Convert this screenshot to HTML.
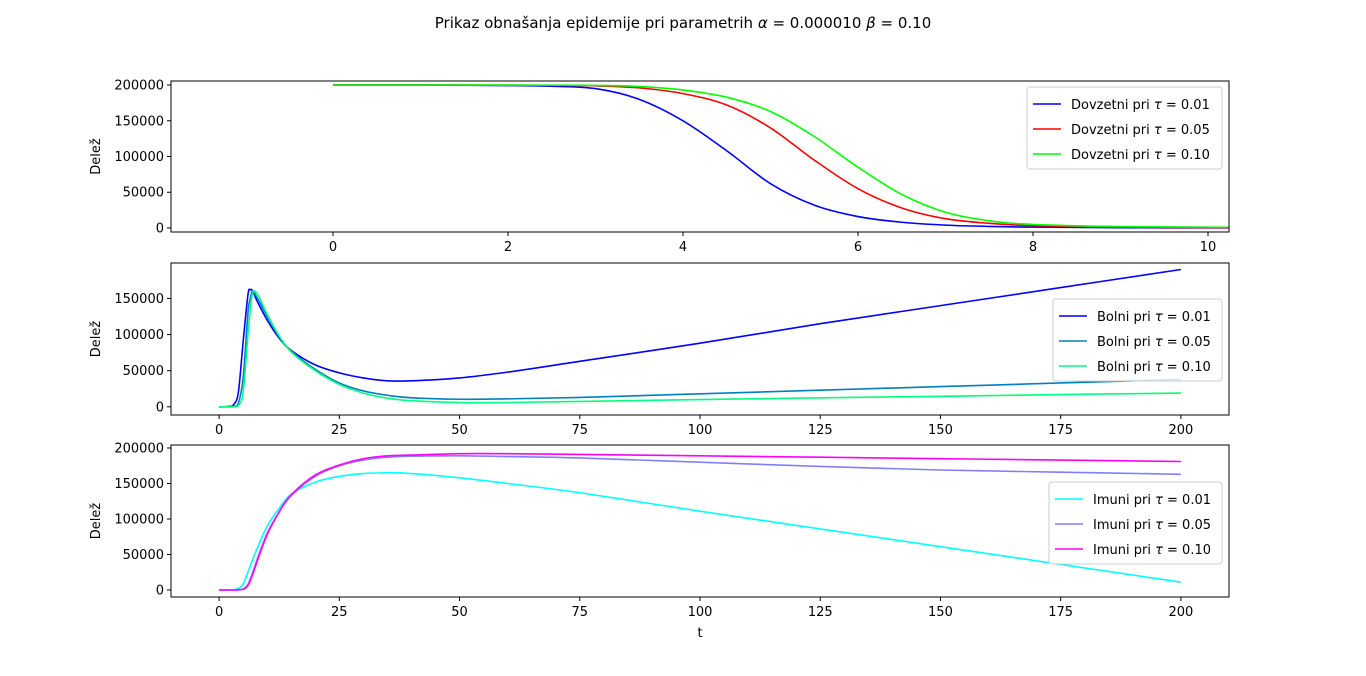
<!DOCTYPE html>
<html><head><meta charset="utf-8"><style>
body{margin:0;background:#fff;}
svg text{font-family:"DejaVu Sans","Liberation Sans",sans-serif;fill:#000;}
</style></head><body>
<svg id="c" width="1366" height="671" xmlns="http://www.w3.org/2000/svg">
<text x="683" y="28" font-size="15" text-anchor="middle">Prikaz obnašanja epidemije pri parametrih <tspan font-style="italic">α</tspan> = 0.000010 <tspan font-style="italic">β</tspan> = 0.10</text>
</svg>
<script>
// ---- data ----
const sT=[0,1,2,2.5,3,3.5,4,4.5,5,5.5,6,6.5,7,7.5,8,9,10.24];
const sBlue=[200000,199900,199300,198300,195000,180000,150000,108000,62000,32000,16000,8000,4000,2200,1200,400,150];
const sRed=[200000,199950,199800,199600,199000,196000,188000,172000,140000,95000,55000,28000,13000,6500,3200,1200,500];
const sGreen=[200000,199980,199900,199800,199500,198000,193000,183000,163000,128000,85000,47000,22000,10000,5000,2000,1000];
const iT=[0,2,3,4,5,6,6.5,7,8,10,12.5,15,20,25,30,35,40,50,60,75,100,125,150,175,200];
const iBlue=[0,500,3000,20000,90000,155000,162000,160000,145000,120000,95000,78000,58000,47000,40000,36000,36000,40000,48000,63000,88000,115000,140000,165000,190000];
const iTeal=[0,0,1000,5000,40000,130000,150000,160000,150000,125000,97000,77000,52000,33000,22000,16000,12500,10500,11000,13000,18000,23000,28000,33000,38000];
const iGreen=[0,0,0,2000,20000,100000,135000,158000,156000,128000,98000,76000,50000,31000,19000,12000,8500,6000,6000,7500,10000,12500,14500,17000,19000];
const rT=[0,3,4,5,6,7,8,10,12.5,15,20,25,30,35,40,50,60,75,100,125,150,175,200];
const rCyan=[0,500,2000,8000,25000,43000,60000,90000,115000,135000,152000,160000,164000,165000,164000,158000,150000,137000,111000,86000,61000,36000,11000];
const rPurple=[0,0,300,1500,8000,25000,45000,80000,110000,133000,160000,175000,183000,187000,188500,189000,188000,186000,180000,174000,169000,166000,163000];
const rMag=[0,0,200,1000,6000,22000,42000,78000,110000,134000,162000,176000,185000,189000,190000,192000,192000,191000,189000,187000,185000,183000,181000];
const yTicks=[0,50000,100000,150000,200000];
const xTicksTop=[0,2,4,6,8,10];
const xTicksBot=[0,25,50,75,100,125,150,175,200];

const NS="http://www.w3.org/2000/svg",svg=document.getElementById('c');
function el(t,a,p){const e=document.createElementNS(NS,t);for(const k in a)e.setAttribute(k,a[k]);(p||svg).appendChild(e);return e;}
function path(xs,ys,sx,sy){let pts=xs.map((x,i)=>[sx(x),sy(ys[i])]);let d="M"+pts[0][0]+","+pts[0][1];
 for(let i=0;i<pts.length-1;i++){const p0=pts[Math.max(0,i-1)],p1=pts[i],p2=pts[i+1],p3=pts[Math.min(pts.length-1,i+2)];
 const c1=[p1[0]+(p2[0]-p0[0])/6,p1[1]+(p2[1]-p0[1])/6],c2=[p2[0]-(p3[0]-p1[0])/6,p2[1]-(p3[1]-p1[1])/6];
 d+=` C${c1[0]},${c1[1]} ${c2[0]},${c2[1]} ${p2[0]},${p2[1]}`;}return d;}
function panel(o){
 const g=el('g',{});
 const sx=v=>o.x0+(v-o.xmin)/(o.xmax-o.xmin)*(o.x1-o.x0);
 const sy=v=>o.y1-(v-o.ymin)/(o.ymax-o.ymin)*(o.y1-o.y0);
 const clip=el('clipPath',{id:o.name+'-clip'},g);el('rect',{x:o.x0,y:o.y0,width:o.x1-o.x0,height:o.y1-o.y0},clip);
 o.series.forEach(s=>{const p=el('path',{d:path(o.t,s.v,sx,sy),fill:'none',stroke:s.c,'stroke-width':1.6,'clip-path':`url(#${o.name}-clip)`},g);
  });
 const fr=el('rect',{x:o.x0,y:o.y0,width:o.x1-o.x0,height:o.y1-o.y0,fill:'none',stroke:'#000','stroke-width':1},g);
 
 yTicks.forEach(v=>{if(v>o.ymax)return;const y=sy(v);el('line',{x1:o.x0-4,x2:o.x0,y1:y,y2:y,stroke:'#000'},g);
  const t=el('text',{x:o.x0-7,y:y+4.5,'font-size':13,'text-anchor':'end'},g);t.textContent=v;
  });
 o.xt.forEach(v=>{const x=sx(v);el('line',{x1:x,x2:x,y1:o.y1,y2:o.y1+4,stroke:'#000'},g);
  const t=el('text',{x:x,y:o.y1+19,'font-size':13,'text-anchor':'middle'},g);t.textContent=v;
  });
 const yl=el('text',{x:0,y:0,'font-size':13,'text-anchor':'middle',transform:`translate(100,${(o.y0+o.y1)/2}) rotate(-90)`},g);yl.textContent='Delež';
 
 const L=o.leg;const lg=el('g',{},g);
 el('rect',{x:L.x,y:L.y,width:L.w,height:82,rx:3,fill:'#fff',stroke:'#ccc','fill-opacity':0.8},lg);
 o.series.forEach((s,i)=>{const yy=L.y+17+i*25;el('line',{x1:L.x+6,x2:L.x+34,y1:yy,y2:yy,stroke:s.c,'stroke-width':1.6},lg);
  const t=el('text',{x:L.x+44,y:yy+5,'font-size':13},lg);t.innerHTML=s.l+' pri <tspan font-style="italic">τ</tspan> = '+s.tau;
  });
}
panel({name:'susceptible-panel',x0:171,x1:1229,y0:81,y1:232,xmin:-1.851,xmax:10.24,ymin:-5634,ymax:205634,t:sT,xt:xTicksTop,
 series:[{v:sBlue,c:'#0000ff',l:'Dovzetni',tau:'0.01',n:'susceptible-tau-001'},{v:sRed,c:'#ff0000',l:'Dovzetni',tau:'0.05',n:'susceptible-tau-005'},{v:sGreen,c:'#00ff00',l:'Dovzetni',tau:'0.10',n:'susceptible-tau-010'}],
 leg:{x:1027,y:87,w:195}});
panel({name:'infected-panel',x0:171,x1:1229,y0:263,y1:415,xmin:-10,xmax:210,ymin:-11300,ymax:199000,t:iT,xt:xTicksBot,
 series:[{v:iBlue,c:'#0000ff',l:'Bolni',tau:'0.01',n:'infected-tau-001'},{v:iTeal,c:'#0080c0',l:'Bolni',tau:'0.05',n:'infected-tau-005'},{v:iGreen,c:'#00ff80',l:'Bolni',tau:'0.10',n:'infected-tau-010'}],
 leg:{x:1053,y:299,w:169}});
panel({name:'recovered-panel',x0:171,x1:1229,y0:445,y1:597,xmin:-10,xmax:210,ymin:-9859,ymax:204225,t:rT,xt:xTicksBot,
 series:[{v:rCyan,c:'#00ffff',l:'Imuni',tau:'0.01',n:'recovered-tau-001'},{v:rPurple,c:'#8080ff',l:'Imuni',tau:'0.05',n:'recovered-tau-005'},{v:rMag,c:'#ff00ff',l:'Imuni',tau:'0.10',n:'recovered-tau-010'}],
 leg:{x:1049,y:482,w:173}});
const xl=el('text',{x:700,y:637,'font-size':13,'text-anchor':'middle'});xl.textContent='t';


</script>
</body></html>
